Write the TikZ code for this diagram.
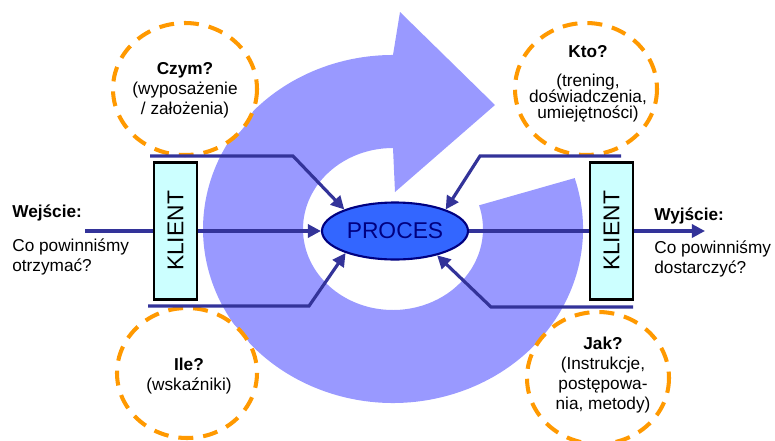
\documentclass[tikz,border=0pt]{standalone}
\usepackage{fontspec}
\setmainfont{Liberation Sans}
\usetikzlibrary{arrows.meta,shapes.geometric}
\definecolor{ringblue}{HTML}{9999FF}
\definecolor{linkblue}{HTML}{333399}
\definecolor{procfill}{HTML}{3366FF}
\definecolor{procline}{HTML}{000080}
\definecolor{klientfill}{HTML}{CCFFFF}
\definecolor{askorange}{HTML}{FF9900}

\begin{document}
\begin{tikzpicture}[x=0.02cm,y=-0.02cm,
        every node/.style={font=\fontsize{9.8}{11.3}\selectfont,inner sep=0pt},
        link/.style={draw=linkblue,line width=1.8pt},
        linkto/.style={link,-{Triangle[length=7.5pt,width=7.5pt]}},
        ask/.style={draw=askorange,fill=white,line width=2.3pt,dash pattern=on 8.5pt off 5.7pt},
        klient/.style={draw,line width=1.4pt,fill=klientfill,rotate=90,minimum width=2.74cm,minimum height=0.86cm,font=\fontsize{13}{15}\selectfont},
        proces/.style={ellipse,draw=procline,line width=1.2pt,fill=procfill,minimum width=2.92cm,minimum height=1.14cm,text=procline,font=\fontsize{13}{15}\selectfont},
        txt/.style={align=left,anchor=base west},
        asktxt/.style={align=center,anchor=base}]

        \useasboundingbox (0,0) rectangle (775,440);

        \fill[ringblue] (574.7,178.1) arc[start angle=-17,end angle=270,x radius=190,y radius=174]
            -- (400,12) -- (495,105) -- (395,192) -- (393,148)
            arc[start angle=270,end angle=-17,x radius=90,y radius=81] -- cycle;

        \path[ask] (185,89) ellipse [x radius=72,y radius=66];
        \path[ask] (586,89) ellipse [x radius=71,y radius=66];
        \path[ask] (187,373) ellipse [x radius=70,y radius=65];
        \path[ask] (598,378) ellipse [x radius=71,y radius=66];

        \node[klient] (klL) at (175.5,231) {KLIENT};
        \node[klient] (klR) at (611.5,231) {KLIENT};
        \node[proces] (proc) at (395,231) {PROCES};

        \coordinate (inL) at (85,231);
        \coordinate (outR) at (705,231);
        \coordinate (tlA) at (150,156);
        \coordinate (tlB) at (293,156);
        \coordinate (trA) at (621,156);
        \coordinate (trB) at (480,156);
        \coordinate (blA) at (148,306);
        \coordinate (blB) at (309,306);
        \coordinate (brA) at (633,307);
        \coordinate (brB) at (491,307);

        \path[link] (inL) -- (klL);
        \path[linkto] (klL) -- (proc);
        \path[link] (proc) -- (klR);
        \path[linkto] (klR) -- (outR);
        \path[linkto] (tlA) -- (tlB) -- (proc.157);
        \path[linkto] (trA) -- (trB) -- (proc.23);
        \path[linkto] (blA) -- (blB) -- (proc.204);
        \path[linkto] (brA) -- (brB) -- (proc.330);

        \node[txt] (inT) at (12,217) {\textbf{Wejście:}};
        \node[txt] (inQ) at (12,271) {Co powinniśmy\\otrzymać?};
        \node[txt] (outT) at (654,220) {\textbf{Wyjście:}};
        \node[txt] (outQ) at (654,273) {Co powinniśmy\\dostarczyć?};

        \node[asktxt] (czym) at (185,114) {\textbf{Czym?}\\(wyposażenie\\/ założenia)};
        \node[asktxt] (kto) at (588,118) {\textbf{Kto?}\\[5pt](trening,\\[-2.3pt]doświadczenia,\\[-2.3pt]umiejętności)};
        \node[asktxt] (ile) at (189,390) {\textbf{Ile?}\\(wskaźniki)};
        \node[asktxt] (jak) at (603,409) {\textbf{Jak?}\\(Instrukcje,\\postępowa-\\nia, metody)};
    \end{tikzpicture}
\end{document}
